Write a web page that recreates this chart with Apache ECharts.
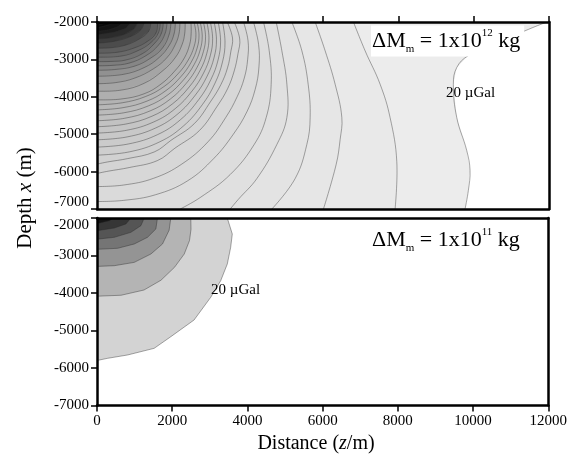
<!DOCTYPE html>
<html>
<head>
<meta charset="utf-8">
<script src="https://cdn.jsdelivr.net/npm/echarts@6/dist/echarts.min.js"></script>
<style>
  html, body { margin: 0; padding: 0; background: #fff; }
  #chart { width: 570px; height: 454px; }
</style>
</head>
<body>
<div id="chart"></div>
<script>
// axes
const distTicks = [0, 2000, 4000, 6000, 8000, 10000, 12000];
const depthTicks = [-7000, -6000, -5000, -4000, -3000, -2000];

// upper panel, dM = 1e12 kg : contour levels (uGal) and lines [distance, depth]
const topLevels = [20, 40, 60, 80, 100, 120, 140, 160, 180, 200,
  220, 240, 260, 280, 300, 320, 340, 360, 380, 400,
  450, 500, 550, 600, 650, 700, 750, 800, 900, 1000, 1100, 1200, 1300, 1400, 1500];
const topLines = [
  [[11946,-2000],[11574,-2147],[10700,-2521],[9851,-2904],[9551,-3217],[9461,-3663],[9551,-4554],[9816,-5436],[9904,-5971],[9859,-6506],[9771,-7000]],
  [[6808,-2000],[7118,-2770],[7516,-3663],[7781,-4554],[7959,-5730],[7914,-7000]],
  [[5792,-2000],[6057,-2770],[6322,-3663],[6500,-4554],[6455,-5142],[6349,-5811],[6012,-7000]],
  [[5173,-2000],[5439,-2770],[5606,-3663],[5659,-4554],[5571,-5276],[5261,-6185],[4643,-7000]],
  [[4757,-2000],[4908,-2770],[5041,-3663],[5041,-4554],[4775,-5276],[4245,-6185],[3749,-6746],[3537,-7000]],
  [[4420,-2000],[4571,-2762],[4624,-3671],[4492,-4554],[4173,-5276],[3537,-6078],[2741,-6693],[2210,-7000]],
  [[4155,-2000],[4290,-2600],[4300,-3200],[4200,-3800],[3980,-4400],[3620,-5000],[3100,-5650],[2400,-6250],[1550,-6620],[700,-6770],[0,-6800]],
  [[3890,-2000],[4010,-2500],[4000,-3000],[3910,-3500],[3720,-4000],[3420,-4550],[2950,-5200],[2250,-5800],[1500,-6180],[700,-6360],[0,-6400]],
  [[3643,-2000],[3789,-2454],[3745,-2838],[3643,-3308],[3468,-3782],[3188,-4256],[2721,-4900],[2069,-5374],[1603,-5706],[856,-5892],[295,-5989],[0,-6050]],
  [[3457,-2000],[3598,-2427],[3555,-2781],[3465,-3227],[3290,-3672],[3024,-4115],[2581,-4720],[1963,-5165],[1520,-5475],[812,-5653],[281,-5742],[0,-5800]],
  [[3332,-2000],[3399,-2534],[3332,-3068],[3132,-3638],[2799,-4207],[2299,-4777],[1666,-5204],[866,-5471],[0,-5560]],
  [[3217,-2000],[3281,-2502],[3217,-3004],[3024,-3539],[2702,-4074],[2220,-4609],[1609,-5011],[836,-5261],[0,-5345]],
  [[3110,-2000],[3172,-2473],[3110,-2945],[2923,-3449],[2612,-3953],[2146,-4457],[1555,-4835],[809,-5071],[0,-5150]],
  [[3010,-2000],[3070,-2446],[3010,-2891],[2829,-3366],[2528,-3841],[2077,-4317],[1505,-4673],[783,-4896],[0,-4970]],
  [[2915,-2000],[2973,-2420],[2915,-2840],[2740,-3288],[2449,-3736],[2011,-4184],[1458,-4520],[758,-4730],[0,-4800]],
  [[2825,-2000],[2882,-2396],[2825,-2792],[2656,-3214],[2373,-3637],[1949,-4059],[1413,-4376],[735,-4574],[0,-4640]],
  [[2739,-2000],[2794,-2374],[2739,-2747],[2575,-3145],[2301,-3544],[1890,-3942],[1370,-4241],[712,-4428],[0,-4490]],
  [[2656,-2000],[2709,-2353],[2656,-2705],[2497,-3081],[2231,-3457],[1833,-3833],[1328,-4115],[691,-4291],[0,-4350]],
  [[2575,-2000],[2627,-2332],[2575,-2665],[2421,-3019],[2163,-3373],[1777,-3728],[1288,-3994],[670,-4160],[0,-4215]],
  [[2494,-2000],[2500,-2300],[2460,-2600],[2320,-2960],[2060,-3316],[1700,-3660],[1250,-3920],[640,-4060],[0,-4080]],
  [[2340,-2000],[2330,-2300],[2260,-2600],[2080,-2950],[1750,-3300],[1250,-3640],[650,-3820],[0,-3850]],
  [[2200,-2000],[2180,-2300],[2080,-2600],[1860,-2950],[1500,-3250],[1000,-3500],[500,-3620],[0,-3650]],
  [[2080,-2000],[2050,-2300],[1920,-2620],[1650,-2950],[1250,-3220],[700,-3400],[0,-3450]],
  [[1963,-2000],[1918,-2325],[1741,-2693],[1433,-2960],[990,-3183],[459,-3272],[0,-3290]],
  [[1860,-2000],[1810,-2300],[1630,-2620],[1300,-2900],[850,-3100],[400,-3160],[0,-3170]],
  [[1760,-2000],[1710,-2300],[1520,-2580],[1200,-2850],[750,-3020],[350,-3055],[0,-3060]],
  [[1680,-2000],[1630,-2290],[1430,-2550],[1100,-2760],[650,-2910],[0,-2940]],
  [[1608,-2000],[1565,-2293],[1343,-2515],[990,-2693],[547,-2808],[0,-2835]],
  [[1430,-2000],[1370,-2250],[1130,-2450],[750,-2620],[350,-2690],[0,-2700]],
  [[1255,-2000],[1167,-2205],[902,-2382],[459,-2515],[0,-2565]],
  [[1080,-2000],[980,-2180],[700,-2340],[300,-2430],[0,-2450]],
  [[902,-2000],[769,-2160],[459,-2267],[0,-2340]],
  [[700,-2000],[560,-2120],[300,-2210],[0,-2250]],
  [[459,-2000],[326,-2072],[0,-2150]],
  [[250,-2000],[150,-2050],[0,-2080]]
];

// lower panel, dM = 1e11 kg
const bottomLevels = [20, 40, 60, 80, 100, 120, 140];
const bottomLines = [
  [[3465,-2000],[3598,-2427],[3555,-2781],[3465,-3227],[3290,-3672],[3024,-4115],[2581,-4720],[1963,-5165],[1520,-5475],[812,-5653],[281,-5742],[0,-5800]],
  [[2494,-2000],[2500,-2300],[2460,-2600],[2320,-2960],[2060,-3316],[1700,-3660],[1250,-3920],[640,-4060],[0,-4085]],
  [[1963,-2000],[1918,-2325],[1741,-2693],[1433,-2960],[990,-3183],[459,-3272],[0,-3290]],
  [[1608,-2000],[1565,-2293],[1343,-2515],[990,-2693],[547,-2808],[0,-2835]],
  [[1255,-2000],[1167,-2205],[902,-2382],[459,-2515],[0,-2565]],
  [[902,-2000],[769,-2160],[459,-2267],[0,-2340]],
  [[459,-2000],[326,-2072],[0,-2150]]
];

const serif = "'Liberation Serif', 'Times New Roman', serif";
const dMin = distTicks[0], dMax = distTicks[distTicks.length - 1];
const zMin = depthTicks[0], zMax = depthTicks[depthTicks.length - 1];

// contour line + closing corners -> filled region on the source side
function closeContour(pts) {
  let ring = pts.slice();
  let last = pts[pts.length - 1];
  if (last[1] <= zMin + 1) ring.push([dMin, zMin]);
  ring.push([dMin, zMax]);
  return ring;
}

function contourSeries(lines, levels, grid, smooth) {
  return {
    type: 'custom',
    coordinateSystem: 'cartesian2d',
    xAxisIndex: grid * 2,
    yAxisIndex: grid * 2,
    clip: true,
    silent: true,
    data: levels.map((v, i) => [v, i]),
    renderItem: function (params, api) {
      let pts = lines[api.value(1)];
      let ring = closeContour(pts).map(p => api.coord(p));
      let path = pts.map(p => api.coord(p));
      return {
        type: 'group',
        children: [{
          type: 'polygon',
          shape: { points: ring },
          style: { fill: api.visual('color'), stroke: null }
        }, {
          type: 'polyline',
          shape: { points: path, smooth: smooth },
          style: { fill: null, stroke: 'rgba(40,40,40,0.5)', lineWidth: 0.8 }
        }]
      };
    }
  };
}

function xAxis(grid, pos, ticks, labels) {
  return {
    type: 'value', gridIndex: grid, position: pos, z: 10,
    min: dMin, max: dMax, interval: distTicks[1] - distTicks[0],
    axisLine: { show: true, onZero: false, lineStyle: { color: '#000', width: 2.5 } },
    axisTick: { show: ticks, length: 6, lineStyle: { color: '#000', width: 1.5 } },
    axisLabel: { show: labels, margin: 8, color: '#000', fontFamily: serif, fontSize: 15,
      showMinLabel: true, showMaxLabel: true, formatter: v => String(v) },
    splitLine: { show: false }
  };
}

function yAxis(grid, pos, ticks, labels, shift) {
  return {
    type: 'value', gridIndex: grid, position: pos, z: 10,
    min: zMin, max: zMax, interval: depthTicks[1] - depthTicks[0],
    axisLine: { show: true, onZero: false, lineStyle: { color: '#000', width: 2.5 } },
    axisTick: { show: ticks, length: 6, lineStyle: { color: '#000', width: 1.5 } },
    axisLabel: {
      show: labels, margin: 8, color: '#000', fontFamily: serif, fontSize: 15,
      showMinLabel: true, showMaxLabel: true,
      formatter: function (v) {
        if (shift && v === shift.value) return '{s|' + v + '}';
        return String(v);
      },
      rich: { s: { fontFamily: serif, fontSize: 15, color: '#000',
        padding: shift ? shift.padding : 0 } }
    },
    splitLine: { show: false }
  };
}

function massLabel(y, exp) {
  return {
    type: 'text', x: 371, y: y, z: 100,
    style: {
      text: '{a|\u0394M}{s|m}{a| = 1x10}{p|' + exp + '}{a| kg}',
      verticalAlign: 'middle',
      backgroundColor: '#fff',
      padding: [2, 4, 2, 1],
      rich: {
        a: { fontFamily: serif, fontSize: 22, lineHeight: 27, fill: '#000' },
        s: { fontFamily: serif, fontSize: 11, lineHeight: 12, verticalAlign: 'bottom', fill: '#000' },
        p: { fontFamily: serif, fontSize: 11, lineHeight: 15, verticalAlign: 'top', fill: '#000' }
      }
    }
  };
}

function plainText(x, y, text, size) {
  return {
    type: 'text', x: x, y: y, z: 100,
    style: { text: text, fontFamily: serif, fontSize: size, fill: '#000',
      align: 'left', verticalAlign: 'middle' }
  };
}

let myChart = echarts.init(document.getElementById('chart'), null, { renderer: 'canvas' });
let option = {
  backgroundColor: '#fff',
  animation: false,
  grid: [
    { left: 97, right: 21, top: 22, height: 187, show: true, backgroundColor: '#fff', borderWidth: 0 },
    { left: 97, right: 21, top: 218, height: 187.5, show: true, backgroundColor: '#fff', borderWidth: 0 }
  ],
  xAxis: [
    xAxis(0, 'bottom', false, false),
    xAxis(0, 'top', true, false),
    xAxis(1, 'bottom', true, true),
    xAxis(1, 'top', false, false)
  ],
  yAxis: [
    yAxis(0, 'left', true, true, { value: -7000, padding: [0, 0, 13, 0] }),
    yAxis(0, 'right', false, false),
    yAxis(1, 'left', true, true, { value: -2000, padding: [14, 0, 0, 0] }),
    yAxis(1, 'right', false, false)
  ],
  visualMap: [{
    type: 'continuous', show: false, seriesIndex: 0, dimension: 0,
    min: topLevels[0], max: topLevels[topLevels.length - 1],
    inRange: { color: ['#ececec', '#c0c0c0', '#848484', '#4a4a4a', '#1c1c1c', '#000000'] }
  }, {
    type: 'continuous', show: false, seriesIndex: 1, dimension: 0,
    min: bottomLevels[0], max: bottomLevels[bottomLevels.length - 1],
    inRange: { color: ['#d3d3d3', '#161616'] }
  }],
  series: [
    contourSeries(topLines, topLevels, 0, 0.4),
    contourSeries(bottomLines, bottomLevels, 1, 0)
  ],
  graphic: [
    massLabel(41, '12'),
    massLabel(240, '11'),
    plainText(446, 93, '20 \u00b5Gal', 15),
    plainText(211, 290, '20 \u00b5Gal', 15),
    {
      type: 'text', x: 316, y: 444, z: 100,
      style: { text: '{a|Distance (}{i|z}{a|/m)}', align: 'center', verticalAlign: 'middle',
        rich: { a: { fontFamily: serif, fontSize: 20, fill: '#000' },
                i: { fontFamily: serif, fontSize: 20, fontStyle: 'italic', fill: '#000' } } }
    },
    {
      type: 'text', x: 25, y: 198, z: 100, rotation: Math.PI / 2,
      style: { text: '{a|Depth }{i|x}{a| (m)}', align: 'center', verticalAlign: 'middle',
        rich: { a: { fontFamily: serif, fontSize: 21, fill: '#000' },
                i: { fontFamily: serif, fontSize: 21, fontStyle: 'italic', fill: '#000' } } }
    }
  ]
};
myChart.setOption(option);
</script>
</body>
</html>
